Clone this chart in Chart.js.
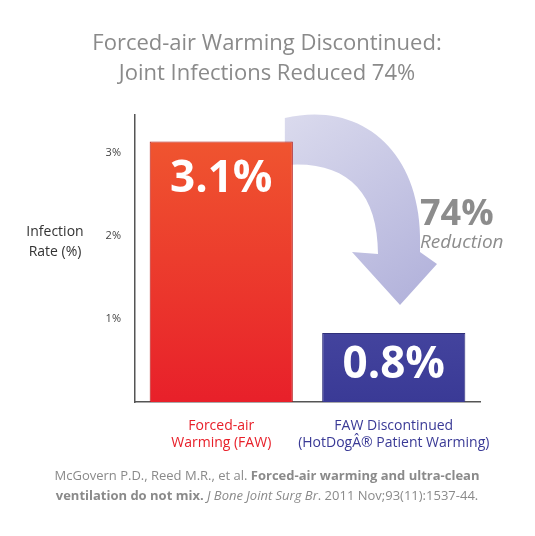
<!DOCTYPE html><html><head><script src="https://cdn.jsdelivr.net/npm/chart.js@4"></script>
<style>body{margin:0;background:#fff}#w{width:535px;height:536px}</style></head><body><div id="w"><canvas id="c"></canvas></div>
<script>
const categories=[["Forced-air","Warming (FAW)"],["FAW Discontinued","(HotDog® Patient Warming)"]];
const values=[3.13,0.83];
const valueLabels=["3.1%","0.8%"];
const tickLabels={1:"1%",2:"2%",3:"3%"};
const F="'Open Sans', sans-serif";
const ctxC=document.getElementById('c').getContext('2d');
const deco={id:'deco',
beforeDatasetsDraw(ch){const c=ch.ctx;const m0=ch.getDatasetMeta(0).data;
 const x0=m0[0].x+m0[0].width/2-8;
 c.save();const g=c.createLinearGradient(290,100,440,300);g.addColorStop(0,'#dcdcee');g.addColorStop(1,'#b0b0da');c.fillStyle=g;
 c.beginPath();c.moveTo(x0,118);c.bezierCurveTo(360,100,425,150,420,252);c.lineTo(437,264);c.lineTo(400,305);c.lineTo(352,252);c.lineTo(378,254);
 c.bezierCurveTo(378,190,345,160,x0,165);c.closePath();c.fill();c.restore();},
afterDraw(ch){const c=ch.ctx;c.save();c.textAlign='center';c.fillStyle='#8a8a8a';c.font='22px '+F;
 c.fillText('Forced-air Warming Discontinued:',267,50);c.fillText('Joint Infections Reduced 74%',267,80);
 c.fillStyle='#333';c.font='14px '+F;c.fillText('Infection',55,236);c.fillText('Rate (%)',55,256);
 const d=ch.getDatasetMeta(0).data;c.fillStyle='#fff';c.font='bold 44px '+F;c.textBaseline='middle';
 c.fillText(valueLabels[0],d[0].x,d[0].y+38);c.fillText(valueLabels[1],d[1].x,d[1].y+33);
 c.textAlign='left';c.fillStyle='#8c8c8c';c.font='bold 36px '+F;c.fillText('74%',420,215);
 c.font='italic 19px '+F;c.fillText('Reduction',420,243);
 c.textBaseline='alphabetic';c.fillStyle='#8a8a8a';
 const a='McGovern P.D., Reed M.R., et al. ',b='Forced-air warming and ultra-clean';
 c.font='13px '+F;const wa=c.measureText(a).width;c.font='bold 13px '+F;const wb=c.measureText(b).width;
 let sx=267-(wa+wb)/2;c.font='13px '+F;c.fillText(a,sx,480);c.font='bold 13px '+F;c.fillText(b,sx+wa,480);
 const p=[['bold 13px ','ventilation do not mix. '],['italic 13px ','J Bone Joint Surg Br'],['13px ','. 2011 Nov;93(11):1537-44.']];
 let tw=0;p.forEach(q=>{c.font=q[0]+F;tw+=c.measureText(q[1]).width});sx=267-tw/2;
 p.forEach(q=>{c.font=q[0]+F;c.fillText(q[1],sx,500);sx+=c.measureText(q[1]).width});
 c.restore();}};
function grad(ch,i){const a=ch.chartArea;if(!a)return i?'#5050a8':'#ee2a2a';const g=ch.ctx.createLinearGradient(0,a.top,0,a.bottom);
 if(i){g.addColorStop(0,'#6060b4');g.addColorStop(1,'#3a3a96')}else{g.addColorStop(0,'#f05a30');g.addColorStop(1,'#e8202a')}return g;}
new Chart(ctxC,{type:'bar',data:{labels:categories,datasets:[{data:values,
 backgroundColor:c=>grad(c.chart,c.dataIndex),borderColor:['#b01818','#30307a'],borderWidth:1,barPercentage:0.83,categoryPercentage:1}]},
 plugins:[deco],
 options:{responsive:true,maintainAspectRatio:false,animation:false,layout:{padding:{top:115,right:55,left:0,bottom:0}},
 plugins:{legend:{display:false},tooltip:{enabled:false}},
 scales:{y:{min:0,max:3.45,afterFit:s=>{s.width=135},grid:{display:false},border:{color:'#555',width:1.5},
  afterBuildTicks:s=>{s.ticks=[1,2,3].map(v=>({value:v}))},
  ticks:{callback:v=>tickLabels[v]||'',color:'#444',font:{family:F,size:11},padding:6}},
 x:{afterFit:s=>{s.height=134},grid:{display:false},border:{color:'#555',width:1.5},
  ticks:{color:['#e8202a','#3a3a96'],font:{family:F,size:14},padding:8,maxRotation:0,minRotation:0,autoSkip:false}}}}});
</script></body></html>
